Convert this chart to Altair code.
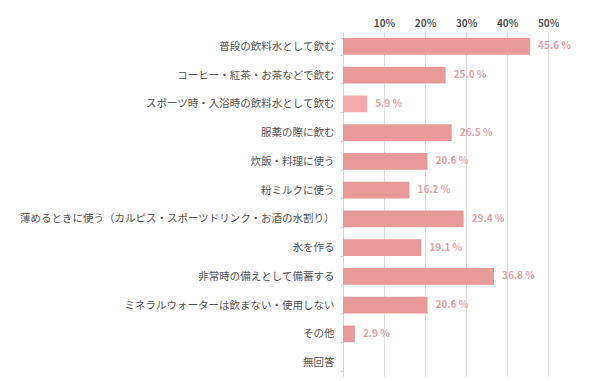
import altair as alt
import pandas as pd

categories = [
    "普段の飲料水として飲む",
    "コーヒー・紅茶・お茶などで飲む",
    "スポーツ時・入浴時の飲料水として飲む",
    "服薬の際に飲む",
    "炊飯・料理に使う",
    "粉ミルクに使う",
    "薄めるときに使う（カルピス・スポーツドリンク・お酒の水割り）",
    "氷を作る",
    "非常時の備えとして備蓄する",
    "ミネラルウォーターは飲まない・使用しない",
    "その他",
    "無回答",
]
values = [45.6, 25.0, 5.9, 26.5, 20.6, 16.2, 29.4, 19.1, 36.8, 20.6, 2.9, None]
highlight = [False, False, True, False, False, False, False, False, False, False, False, False]

df = pd.DataFrame({"cat": categories, "val": values, "hl": highlight})
df["label"] = df["val"].map(lambda v: "" if pd.isna(v) else f"{v:.1f} %")

FONT = "Noto Sans CJK JP"

y = alt.Y("cat:N", sort=categories, title=None,
          scale=alt.Scale(paddingInner=0.42, paddingOuter=0.21),
          axis=alt.Axis(labelFont=FONT, labelFontSize=10.5, labelColor="#555",
                        labelPadding=6, domainColor="#cfd8de", tickColor="#cfd8de",
                        tickSize=3, tickBand="extent", labelLimit=400))
x = alt.X("val:Q", title=None,
          scale=alt.Scale(domain=[0, 58], nice=False),
          axis=alt.Axis(orient="top", values=[10, 20, 30, 40, 50], format=".0f",
                        labelExpr="datum.value + '%'", labelFont=FONT,
                        labelFontSize=10, labelFontWeight="bold", labelColor="#555",
                        grid=True, gridColor="#e0e0e0", domain=False, ticks=False,
                        labelPadding=4))

bars = alt.Chart(df).mark_bar().encode(
    y=y, x=x,
    color=alt.Color("hl:N", scale=alt.Scale(domain=[False, True], range=["#e89a9a", "#f5aaaa"]),
                    legend=None),
)
labels = alt.Chart(df).mark_text(align="left", dx=8, font=FONT, fontSize=10,
                                 fontWeight="bold", color="#e8a3aa").encode(
    y=alt.Y("cat:N", sort=categories), x="val:Q", text="label:N")

chart = (bars + labels).properties(width=238, height=345).configure_view(stroke=None).properties(
    padding={"left": 11, "top": 10, "right": 5, "bottom": 5})

chart.save("out.html", embed_options={"renderer": "svg", "actions": False})
